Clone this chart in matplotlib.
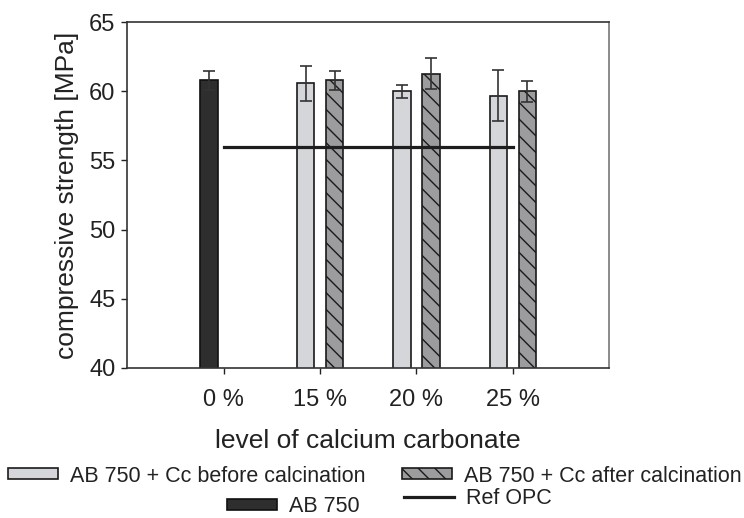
import matplotlib
matplotlib.use("Agg")
import matplotlib.pyplot as plt
import numpy as np

plt.rcParams['font.family'] = ['Liberation Sans', 'DejaVu Sans']
plt.rcParams['hatch.linewidth'] = 1.0
plt.rcParams['hatch.color'] = '#1a1a1a'

categories = ["0 %", "15 %", "20 %", "25 %"]
ab750 = [60.8]
ab750_err = [0.67]
before_cats = ["15 %", "20 %", "25 %"]
before_vals = [60.6, 60.0, 59.7]
before_err = [1.27, 0.48, 1.86]
after_vals = [60.8, 61.3, 60.0]
after_err = [0.70, 1.10, 0.79]
ref_opc = 56.0

fig = plt.figure(figsize=(7.44, 5.18), dpi=100)
ax = fig.add_axes([0.1711, 0.2905, 0.6478, 0.6661])

x = np.arange(len(categories))
w = 0.183
off = 0.15
err_kw = dict(ecolor='#333333', elinewidth=1.2, capsize=4, capthick=1.2)

b_dark = ax.bar(x[:1] - off, ab750, w, yerr=ab750_err, color='#2e2e2e',
                edgecolor='#111111', linewidth=1.2, error_kw=err_kw, zorder=2)
b_before = ax.bar(x[1:] - off, before_vals, w, yerr=before_err, color='#d5d6da',
                  edgecolor='#1a1a1a', linewidth=1.2, error_kw=err_kw, zorder=2)
b_after = ax.bar(x[1:] + off, after_vals, w, yerr=after_err, color='#9c9c9e',
                 edgecolor='#1a1a1a', linewidth=1.2, hatch='\\\\', error_kw=err_kw, zorder=2)
ref_line, = ax.plot([x[0], x[-1]], [ref_opc, ref_opc], color='#1e1e1e', lw=2.3, zorder=3)

ax.set_xlim(-1, 4)
ax.set_ylim(40, 65)
ax.set_yticks([40, 45, 50, 55, 60, 65])
ax.set_xticks(x)
ax.set_xticklabels(categories)
ax.tick_params(axis='both', labelsize=17, colors='#222222', length=4.5, width=1.0)
ax.tick_params(axis='x', pad=11)
ax.tick_params(axis='y', pad=4)
for s in ['left', 'bottom', 'top']:
    ax.spines[s].set_color('#333333')
    ax.spines[s].set_linewidth(1.2)
ax.spines['right'].set_color('#777777')
ax.spines['right'].set_linewidth(1.2)

ax.set_ylabel('compressive strength [MPa]', fontsize=19, color='#222222', labelpad=7)
ax.set_xlabel('level of calcium carbonate', fontsize=19, color='#222222', labelpad=13)

leg_kw = dict(frameon=False, fontsize=15.5, handlelength=2.33, handleheight=0.39,
              handletextpad=0.54, borderpad=0, borderaxespad=0,
              labelcolor='#222222')
W, H = 744.0, 518.0
def place(handle, label, px, py):
    lg = fig.legend([handle], [label], loc='center left',
                    bbox_to_anchor=(px / W, 1 - py / H), **leg_kw)
    return lg

place(b_before, 'AB 750 + Cc before calcination', 8, 476)
place(b_after, 'AB 750 + Cc after calcination', 402, 476)
place(b_dark, 'AB 750', 227, 507)
place(ref_line, 'Ref OPC', 404, 498)

fig.savefig('out.png', dpi=100)
